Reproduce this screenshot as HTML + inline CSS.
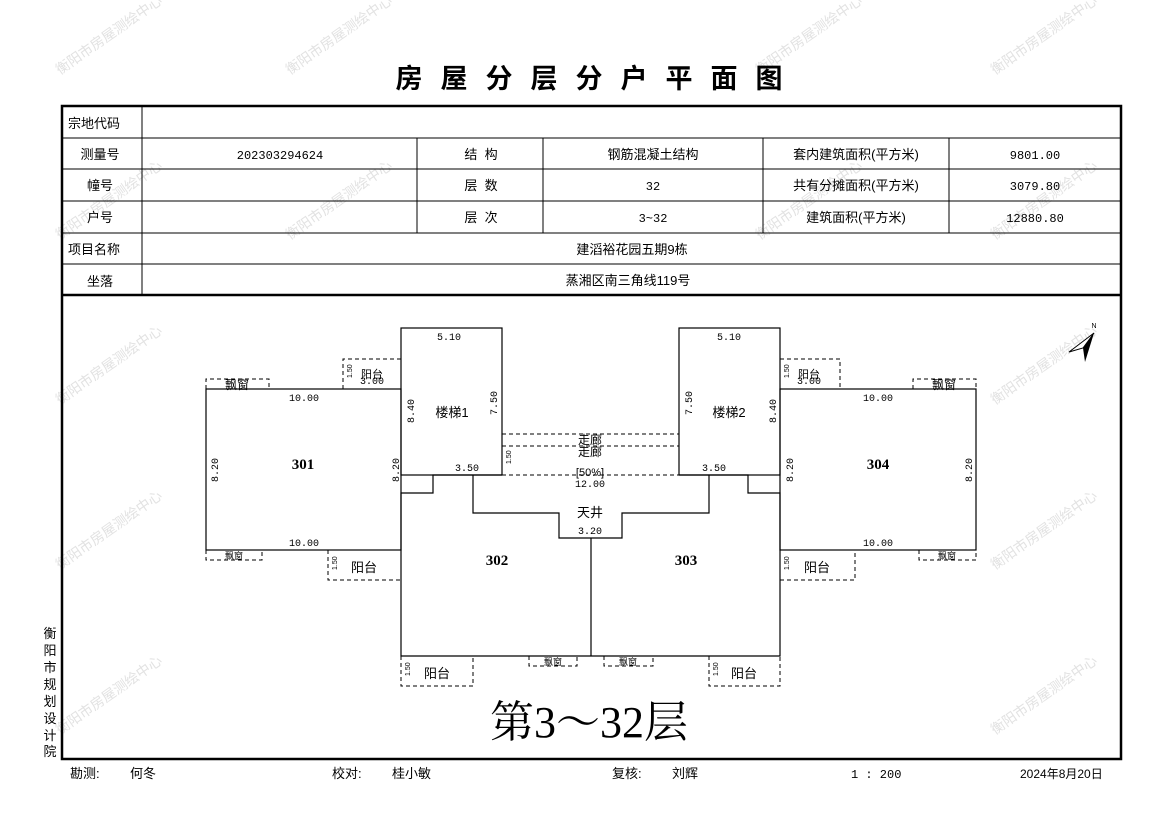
<!DOCTYPE html>
<html><head><meta charset="utf-8"><style>
html,body{margin:0;padding:0;background:#fff;}
svg{display:block;font-family:"Liberation Sans","Noto Sans CJK SC","WenQuanYi Zen Hei",sans-serif;}
.t{font-size:13px;fill:#000;}
.m{font-family:"Liberation Mono","Noto Sans CJK SC",monospace;font-size:12px;}
.s{font-size:10px;fill:#000;font-family:"Liberation Mono","Noto Sans CJK SC",monospace;}
.w{font-size:14px;fill:#e2e2e2;}
</style></head><body>
<svg width="1169" height="827" viewBox="0 0 1169 827" xmlns="http://www.w3.org/2000/svg">
<rect width="1169" height="827" fill="#fff"/>
<g class="w">
<text transform="translate(60,75) rotate(-35)">衡阳市房屋测绘中心</text>
<text transform="translate(290,75) rotate(-35)">衡阳市房屋测绘中心</text>
<text transform="translate(760,75) rotate(-35)">衡阳市房屋测绘中心</text>
<text transform="translate(995,75) rotate(-35)">衡阳市房屋测绘中心</text>
<text transform="translate(60,240) rotate(-35)">衡阳市房屋测绘中心</text>
<text transform="translate(290,240) rotate(-35)">衡阳市房屋测绘中心</text>
<text transform="translate(760,240) rotate(-35)">衡阳市房屋测绘中心</text>
<text transform="translate(995,240) rotate(-35)">衡阳市房屋测绘中心</text>
<text transform="translate(60,405) rotate(-35)">衡阳市房屋测绘中心</text>
<text transform="translate(995,405) rotate(-35)">衡阳市房屋测绘中心</text>
<text transform="translate(60,570) rotate(-35)">衡阳市房屋测绘中心</text>
<text transform="translate(995,570) rotate(-35)">衡阳市房屋测绘中心</text>
<text transform="translate(60,735) rotate(-35)">衡阳市房屋测绘中心</text>
<text transform="translate(995,735) rotate(-35)">衡阳市房屋测绘中心</text>
</g>
<text x="598" y="88" text-anchor="middle" font-size="27" font-weight="bold" letter-spacing="18">房屋分层分户平面图</text>
<g stroke="#000" fill="none">
<rect x="62" y="106" width="1059" height="653" stroke-width="2.5"/>
<line x1="62" y1="295" x2="1121" y2="295" stroke-width="2.5"/>
<g stroke-width="1">
<line x1="62" y1="138" x2="1121" y2="138"/>
<line x1="62" y1="169" x2="1121" y2="169"/>
<line x1="62" y1="201" x2="1121" y2="201"/>
<line x1="62" y1="233" x2="1121" y2="233"/>
<line x1="62" y1="264" x2="1121" y2="264"/>
<line x1="142" y1="106" x2="142" y2="295"/>
<line x1="417" y1="138" x2="417" y2="233"/>
<line x1="543" y1="138" x2="543" y2="233"/>
<line x1="763" y1="138" x2="763" y2="233"/>
<line x1="949" y1="138" x2="949" y2="233"/>
</g></g>
<g class="t">
<text x="68" y="128">宗地代码</text>
<text x="100" y="159" text-anchor="middle">测量号</text>
<text x="100" y="190" text-anchor="middle">幢号</text>
<text x="100" y="222" text-anchor="middle">户号</text>
<text x="68" y="254">项目名称</text>
<text x="100" y="286" text-anchor="middle">坐落</text>
<text x="280" y="159" text-anchor="middle" class="m">202303294624</text>
<text x="481" y="159" text-anchor="middle" xml:space="preserve">结  构</text>
<text x="481" y="190" text-anchor="middle" xml:space="preserve">层  数</text>
<text x="481" y="222" text-anchor="middle" xml:space="preserve">层  次</text>
<text x="653" y="159" text-anchor="middle">钢筋混凝土结构</text>
<text x="653" y="190" text-anchor="middle" class="m">32</text>
<text x="653" y="222" text-anchor="middle" class="m">3~32</text>
<text x="856" y="159" text-anchor="middle">套内建筑面积(平方米)</text>
<text x="856" y="190" text-anchor="middle">共有分摊面积(平方米)</text>
<text x="856" y="222" text-anchor="middle">建筑面积(平方米)</text>
<text x="1035" y="159" text-anchor="middle" class="m">9801.00</text>
<text x="1035" y="190" text-anchor="middle" class="m">3079.80</text>
<text x="1035" y="222" text-anchor="middle" class="m">12880.80</text>
<text x="632" y="254" text-anchor="middle">建滔裕花园五期9栋</text>
<text x="628" y="285" text-anchor="middle">蒸湘区南三角线119号</text>
</g>
<g stroke="#000" fill="none" stroke-width="1.2">
<rect x="206" y="389" width="195" height="161"/>
<rect x="401" y="328" width="101" height="147"/>
<rect x="780" y="389" width="196" height="161"/>
<rect x="679" y="328" width="101" height="147"/>
<polyline points="401,550 401,493 433,493 433,475 502,475"/>
<polyline points="473,475 473,513 559,513 559,538 622,538 622,513 709,513 709,475"/>
<polyline points="679,475 748,475 748,493 780,493 780,656 401,656 401,550"/>
<line x1="591" y1="538" x2="591" y2="656"/>
</g>
<g stroke="#000" fill="none" stroke-width="1" stroke-dasharray="4,3">
<polyline points="206,389 206,379 269,379 269,389"/>
<polyline points="343,389 343,359 401,359"/>
<polyline points="206,550 206,560 262,560 262,550"/>
<polyline points="328,550 328,580 401,580"/>
<polyline points="401,656 401,686 473,686 473,656"/>
<polyline points="529,656 529,666 577,666 577,656"/>
<polyline points="604,656 604,666 653,666 653,656"/>
<polyline points="709,656 709,686 780,686 780,656"/>
<polyline points="780,359 840,359 840,389"/>
<polyline points="913,389 913,379 976,379 976,389"/>
<polyline points="780,580 855,580 855,550"/>
<polyline points="919,550 919,560 976,560 976,550"/>
<line x1="502" y1="434" x2="679" y2="434"/>
<line x1="502" y1="446" x2="679" y2="446"/>
<line x1="502" y1="475" x2="679" y2="475"/>
</g>
<g class="s">
<text x="437" y="340">5.10</text><text x="717" y="340">5.10</text>
<text x="304" y="401" text-anchor="middle">10.00</text><text x="304" y="546" text-anchor="middle">10.00</text>
<text x="878" y="401" text-anchor="middle">10.00</text><text x="878" y="546" text-anchor="middle">10.00</text>
<text x="467" y="471" text-anchor="middle">3.50</text><text x="714" y="471" text-anchor="middle">3.50</text>
<text x="590" y="487" text-anchor="middle">12.00</text>
<text x="590" y="534" text-anchor="middle">3.20</text>
<text x="372" y="384" text-anchor="middle">3.00</text><text x="809" y="384" text-anchor="middle">3.00</text>
<text transform="translate(218,470) rotate(-90)" text-anchor="middle">8.20</text>
<text transform="translate(399,470) rotate(-90)" text-anchor="middle">8.20</text>
<text transform="translate(793,470) rotate(-90)" text-anchor="middle">8.20</text>
<text transform="translate(972,470) rotate(-90)" text-anchor="middle">8.20</text>
<text transform="translate(414,411) rotate(-90)" text-anchor="middle">8.40</text>
<text transform="translate(776,411) rotate(-90)" text-anchor="middle">8.40</text>
<text transform="translate(497,403) rotate(-90)" text-anchor="middle">7.50</text>
<text transform="translate(692,403) rotate(-90)" text-anchor="middle">7.50</text>
</g>
<g font-size="7" fill="#000">
<text transform="translate(352,378) rotate(-90)">1.50</text>
<text transform="translate(789,378) rotate(-90)">1.50</text>
<text transform="translate(337,570) rotate(-90)">1.50</text>
<text transform="translate(789,570) rotate(-90)">1.50</text>
<text transform="translate(410,676) rotate(-90)">1.50</text>
<text transform="translate(718,676) rotate(-90)">1.50</text>
<text transform="translate(511,464) rotate(-90)">1.50</text>
</g>
<g class="t">
<text x="303" y="469" text-anchor="middle" font-size="15" font-weight="bold" font-family="Liberation Serif,serif">301</text>
<text x="878" y="469" text-anchor="middle" font-size="15" font-weight="bold" font-family="Liberation Serif,serif">304</text>
<text x="497" y="565" text-anchor="middle" font-size="15" font-weight="bold" font-family="Liberation Serif,serif">302</text>
<text x="686" y="565" text-anchor="middle" font-size="15" font-weight="bold" font-family="Liberation Serif,serif">303</text>
<text x="452" y="417" text-anchor="middle">楼梯1</text>
<text x="729" y="417" text-anchor="middle">楼梯2</text>
<text x="590" y="517" text-anchor="middle">天井</text>
<text x="590" y="444" text-anchor="middle" font-size="12">走廊</text>
<text x="590" y="456" text-anchor="middle" font-size="12">走廊</text>
<text x="590" y="476" text-anchor="middle" font-size="11">[50%]</text>
<text x="372" y="378" text-anchor="middle" font-size="11">阳台</text>
<text x="809" y="378" text-anchor="middle" font-size="11">阳台</text>
<text x="237" y="389" text-anchor="middle" font-size="12">飘窗</text>
<text x="944" y="389" text-anchor="middle" font-size="12">飘窗</text>
<text x="234" y="559" text-anchor="middle" font-size="9">飘窗</text>
<text x="947" y="559" text-anchor="middle" font-size="9">飘窗</text>
<text x="553" y="665" text-anchor="middle" font-size="9">飘窗</text>
<text x="628" y="665" text-anchor="middle" font-size="9">飘窗</text>
<text x="364" y="572" text-anchor="middle">阳台</text>
<text x="817" y="572" text-anchor="middle">阳台</text>
<text x="437" y="678" text-anchor="middle">阳台</text>
<text x="744" y="678" text-anchor="middle">阳台</text>
</g>
<polygon points="1094,333 1069,352 1083,348" fill="#fff" stroke="#000" stroke-width="1"/>
<polygon points="1094,333 1083,348 1085,362" fill="#000"/>
<text x="1094" y="328" font-size="7" text-anchor="middle">N</text>
<text x="589" y="737" text-anchor="middle" font-size="44" font-family="Liberation Serif,'Noto Serif CJK SC',serif">第3～32层</text>
<g class="t" font-size="14" text-anchor="middle">
<text x="50" y="638">衡</text><text x="50" y="655">阳</text><text x="50" y="672">市</text><text x="50" y="689">规</text><text x="50" y="706">划</text><text x="50" y="723">设</text><text x="50" y="740">计</text><text x="50" y="756">院</text>
</g>
<g class="t">
<text x="70" y="778">勘测:</text><text x="130" y="778">何冬</text>
<text x="332" y="778">校对:</text><text x="392" y="778">桂小敏</text>
<text x="612" y="778">复核:</text><text x="672" y="778">刘辉</text>
<text x="851" y="778" class="m" xml:space="preserve">1 : 200</text>
<text x="1020" y="778" font-size="12">2024年8月20日</text>
</g>
</svg>
</body></html>
